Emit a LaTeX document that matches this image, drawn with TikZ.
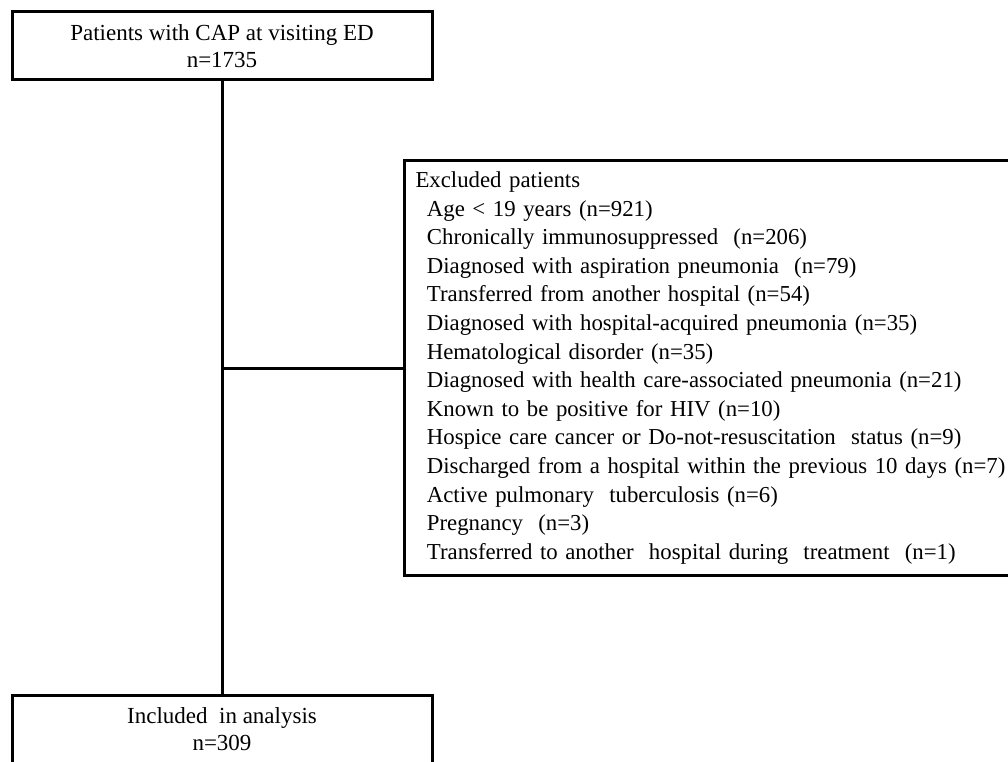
\documentclass[tikz,border=0pt]{standalone}
\usepackage{fontspec}
\setmainfont{Liberation Serif}
\begin{document}
\begin{tikzpicture}[x=1pt,y=-1pt,
  box/.style={draw=black, line width=3pt, inner sep=0pt, align=center,
    font=\fontsize{23}{27}\selectfont},
  conn/.style={draw=black, line width=3pt}]
\useasboundingbox[fill=white] (0,0) rectangle (1008,762);
\node[box, minimum width=420pt, minimum height=68pt] (top) at (222,46)
  {Patients with CAP at visiting ED\\n=1735};
\node[box, minimum width=420pt, minimum height=68pt] (bot) at (222,729)
  {Included~ in analysis\\n=309};
\node[box, anchor=west, minimum width=620pt, minimum height=414pt,
  text width=600pt, align=left, inner xsep=11pt,
  font=\fontsize{22.8}{28.6}\selectfont] (exc) at (403,368)
  {Excluded patients\\
   \hspace*{0.5em}Age < 19 years (n=921)\\
   \hspace*{0.5em}Chronically immunosuppressed~ (n=206)\\
   \hspace*{0.5em}Diagnosed with aspiration pneumonia~ (n=79)\\
   \hspace*{0.5em}Transferred from another hospital (n=54)\\
   \hspace*{0.5em}Diagnosed with hospital-acquired pneumonia (n=35)\\
   \hspace*{0.5em}Hematological disorder (n=35)\\
   \hspace*{0.5em}Diagnosed with health care-associated pneumonia (n=21)\\
   \hspace*{0.5em}Known to be positive for HIV (n=10)\\
   \hspace*{0.5em}Hospice care cancer or Do-not-resuscitation~ status (n=9)\\
   \hspace*{0.5em}Discharged from a hospital within the previous 10 days (n=7)\\
   \hspace*{0.5em}Active pulmonary~ tuberculosis (n=6)\\
   \hspace*{0.5em}Pregnancy~ (n=3)\\
   \hspace*{0.5em}Transferred to another~ hospital during~ treatment~ (n=1)};
\coordinate (j) at (top.south |- exc.west);
\draw[conn] (top.south) -- (bot.north);
\draw[conn] (j) -- (exc.west);
\end{tikzpicture}
\end{document}
